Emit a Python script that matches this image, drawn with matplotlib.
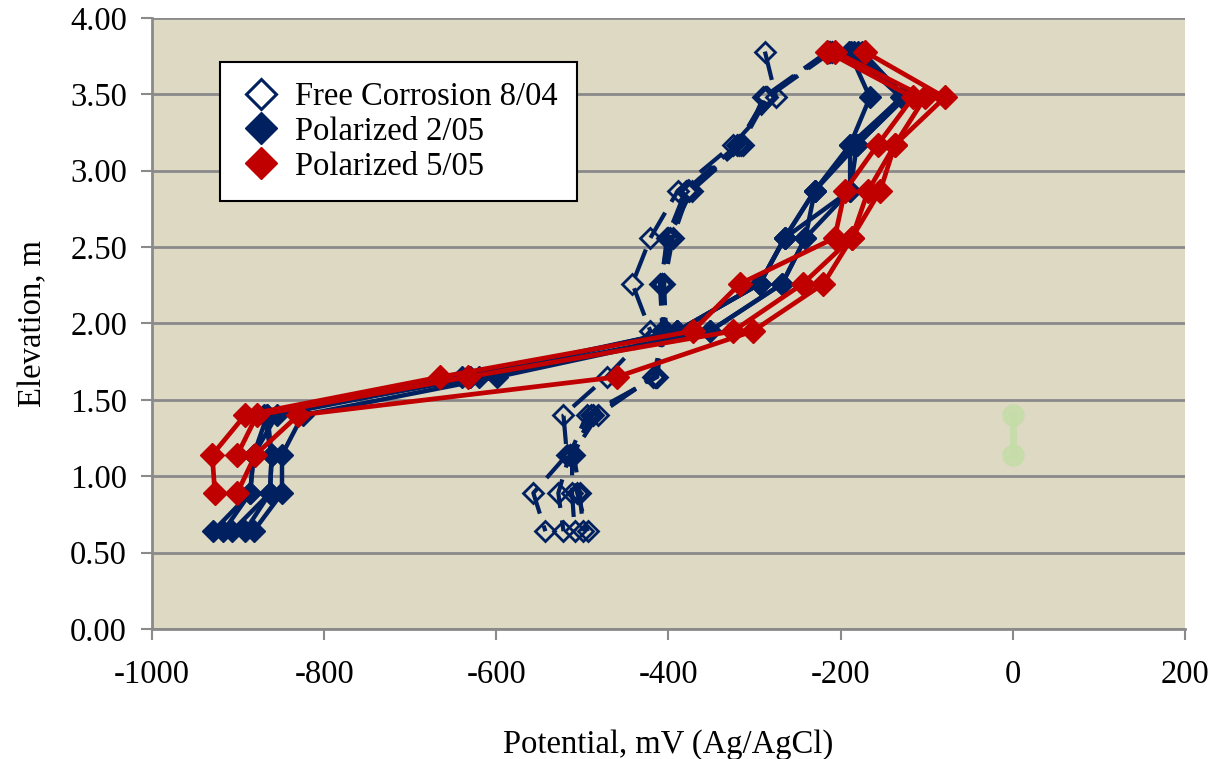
import numpy as np
import matplotlib
matplotlib.use("Agg")
import matplotlib.pyplot as plt
from matplotlib.lines import Line2D

plt.rcParams['font.family'] = ['Liberation Serif', 'DejaVu Serif']
plt.rcParams['axes.unicode_minus'] = False

# elevation of each probe level, m
elevation = [3.78, 3.48, 3.17, 2.87, 2.56, 2.26, 1.95, 1.65, 1.40, 1.14, 0.89, 0.64]

# free corrosion 8/04, mV (one list per probe string)
free_1 = [-288, -275, -325, -389, -421, -442, -421, -472, -522, -518, -557, -543]
free_2 = [-215, -290, -313, -373, -400, -410, -407, -413, -495, -515, -528, -522]
free_3 = [-212, -288, -318, -378, -398, -407, -405, -418, -482, -512, -512, -509]
free_4 = [-210, -285, -316, -376, -395, -405, -403, -416, -490, -510, -503, -499]
free_5 = [-213, -287, -320, -380, -402, -408, -406, -415, -488, -514, -506, -494]

# polarized 2/05, mV
pol2_1 = [-185, -125, -181, -230, -265, -294, -390, -631, -866, -861, -863, -907]
pol2_2 = [-190, -166, -189, -230, -241, -268, -352, -599, -825, -849, -849, -882]
pol2_3 = [-180, -129, -189, -189, -265, -294, -390, -631, -855, -882, -886, -929]
pol2_4 = [-175, -125, -181, -189, -241, -268, -352, -620, -866, -882, -886, -917]
pol2_5 = [-188, -130, -185, -230, -265, -294, -390, -640, -870, -861, -863, -892]

# polarized 5/05, mV (no reading at lowest levels)
nan = np.nan
pol5_1 = [-216, -116, -157, -195, -207, -317, -372, -665, -892, -930, -927, nan]
pol5_2 = [-207, -102, -137, -168, -187, -244, -325, -633, -878, -901, nan, nan]
pol5_3 = [-172, -79, -137, -154, -187, -220, -302, -460, -830, -880, -901, nan]

# reference electrode marker
ref_potential = [0, 0]
ref_elevation = [1.40, 1.14]

navy = '#002060'
red = '#C00000'
grid_col = '#8a8a8a'
fs = 23.5

fig = plt.figure(figsize=(12.22, 7.59), dpi=100)
ax = fig.add_axes([0.1244, 0.1713, 0.8453, 0.8050])
ax.set_facecolor('#DDD9C3')

ax.plot(ref_potential, ref_elevation, color='#C5DDA8', lw=5, marker='o',
        markersize=15, alpha=0.9, zorder=2)

for vals in [free_1, free_2, free_3, free_4, free_5]:
    ax.plot(vals, elevation, color=navy, lw=3, dashes=(7, 3),
            marker='D', markersize=10, markerfacecolor='none',
            markeredgecolor=navy, markeredgewidth=2, zorder=3)

for vals in [pol2_1, pol2_2, pol2_3, pol2_4, pol2_5]:
    ax.plot(vals, elevation, color=navy, lw=3.2, marker='D', markersize=11,
            markerfacecolor=navy, markeredgecolor=navy, zorder=4)

for vals in [pol5_1, pol5_2, pol5_3]:
    ax.plot(vals, elevation, color=red, lw=3.4, marker='D', markersize=12,
            markerfacecolor=red, markeredgecolor=red, zorder=5)

ax.set_xlim(-1000, 200)
ax.set_ylim(0, 4)
ax.set_xticks(np.arange(-1000, 201, 200))
ax.set_yticks(np.arange(0, 4.01, 0.5))
ax.set_yticklabels([f'{v:.2f}' for v in np.arange(0, 4.01, 0.5)])

ax.grid(axis='y', color=grid_col, lw=2)
ax.set_axisbelow(True)
for side in ['top', 'right']:
    ax.spines[side].set_visible(False)
for side in ['left', 'bottom']:
    ax.spines[side].set_color(grid_col)
    ax.spines[side].set_linewidth(2)
ax.tick_params(direction='out', length=8, width=1.5, color=grid_col,
               labelsize=fs, pad=10)
ax.tick_params(axis='x', pad=14)

ax.set_xlabel('Potential, mV (Ag/AgCl)', fontsize=fs, labelpad=28)
ax.set_ylabel('Elevation, m', fontsize=fs, labelpad=16)

handles = [
    Line2D([], [], ls='none', marker='D', markersize=15, markerfacecolor='none',
           markeredgecolor=navy, markeredgewidth=2.2),
    Line2D([], [], ls='none', marker='D', markersize=16, color=navy),
    Line2D([], [], ls='none', marker='D', markersize=16, color=red),
]
labels = ['Free Corrosion 8/04', 'Polarized 2/05', 'Polarized 5/05']
leg = ax.legend(handles, labels, loc='upper left', bbox_to_anchor=(0.066, 0.928),
                borderaxespad=0, fontsize=fs, frameon=True, fancybox=False,
                handletextpad=0.4, labelspacing=0.13, borderpad=0.6,
                handlelength=1.3)
leg.get_frame().set_edgecolor('black')
leg.get_frame().set_linewidth(1.5)
leg.get_frame().set_alpha(1)
leg.set_zorder(10)

fig.savefig('out.png', dpi=100)
